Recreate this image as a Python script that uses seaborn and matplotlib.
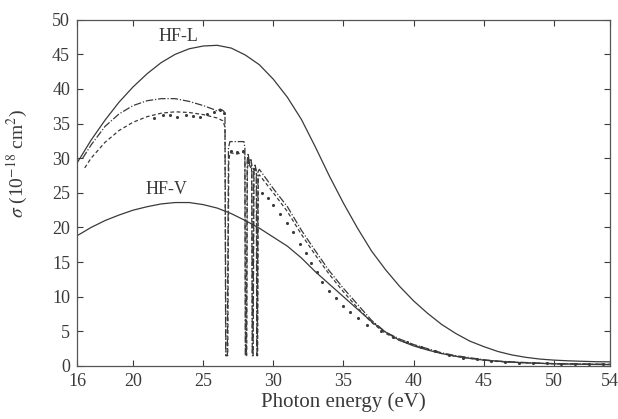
import numpy as np
import pandas as pd
import matplotlib
matplotlib.use("Agg")
import matplotlib.pyplot as plt
import seaborn as sns

# Hartree-Fock length form
hfl_e = [16, 17, 18, 19, 20, 21, 22, 23, 24, 25, 26, 27, 28, 29, 30, 31, 32, 33, 34,
         35, 36, 37, 38, 39, 40, 41, 42, 43, 44, 45, 46, 47, 48, 49, 50, 51, 52, 53, 54]
hfl_s = [29.3, 32.6, 35.5, 38.1, 40.3, 42.2, 43.8, 45.0, 45.8, 46.2, 46.3, 45.9, 44.9,
         43.5, 41.4, 38.8, 35.6, 31.6, 27.4, 23.5, 19.9, 16.6, 13.9, 11.5, 9.4, 7.6,
         6.0, 4.7, 3.6, 2.8, 2.1, 1.6, 1.25, 1.0, 0.85, 0.75, 0.68, 0.62, 0.6]

# Hartree-Fock velocity form
hfv_e = hfl_e
hfv_s = [18.8, 20.0, 21.0, 21.8, 22.5, 23.0, 23.4, 23.6, 23.6, 23.3, 22.8, 22.0, 21.0,
         19.9, 18.6, 17.3, 15.6, 13.6, 11.8, 10.0, 8.2, 6.4, 4.9, 3.7, 2.9, 2.3, 1.8,
         1.4, 1.1, 0.85, 0.7, 0.55, 0.45, 0.38, 0.32, 0.28, 0.25, 0.22, 0.2]

# Correlated result, length form (with autoionizing resonances)
cl_e = [16.4, 17, 18, 19, 20, 21, 22, 23, 24, 25, 25.8, 26.0, 26.2, 26.4, 26.55,
        26.6, 26.72, 26.8, 26.9, 27.9, 27.97, 28.0, 28.08, 28.13, 28.2, 28.3, 28.4,
        28.47, 28.5, 28.55, 28.6, 28.7, 28.78, 28.82, 28.86, 28.9, 29.0, 29.5, 30,
        31, 32, 33, 34, 35, 36, 37, 38, 39, 40, 41, 42, 43, 44, 45, 46, 48, 50, 52, 54]
cl_s = [30.0, 31.9, 34.6, 36.4, 37.6, 38.3, 38.6, 38.6, 38.2, 37.6, 37.0, 36.8, 37.1,
        36.9, 36.6, 1.5, 1.5, 31.5, 32.4, 32.4, 31.5, 1.5, 1.5, 29.5, 30.7, 29.2, 29.8,
        29.0, 1.5, 1.5, 28.5, 29.0, 28.2, 1.5, 1.5, 28.0, 28.4, 27.0, 25.6,
        23.0, 19.6, 16.6, 13.7, 11.2, 8.9, 6.6, 4.9, 3.9, 3.1, 2.5, 1.9, 1.5, 1.2,
        0.9, 0.7, 0.5, 0.35, 0.3, 0.25]

# Correlated result, velocity form
cv_e = [16.55, 17, 18, 19, 20, 21, 22, 23, 24, 25, 26, 26.4, 26.55,
        26.62, 26.75, 26.82, 26.9, 27.4, 27.9, 27.97, 28.02, 28.1, 28.15, 28.25,
        28.35, 28.45, 28.5, 28.56, 28.62, 28.72, 28.8, 28.84, 28.88, 28.93, 29.0,
        30, 31, 32, 33, 34, 35, 36, 37, 38, 39, 40, 41, 42, 43, 44, 45, 46, 48, 50, 52, 54]
cv_s = [28.6, 30.0, 32.3, 34.0, 35.2, 36.0, 36.5, 36.7, 36.6, 36.3, 35.8, 35.4, 34.5,
        1.5, 1.5, 29.5, 30.8, 30.6, 30.9, 30.0, 1.5, 1.5, 28.5, 29.8,
        28.5, 29.0, 1.5, 1.5, 28.0, 28.6, 27.8, 1.5, 1.5, 27.4, 27.6,
        25.0, 22.3, 19.0, 16.0, 13.2, 10.7, 8.4, 6.3, 4.7, 3.7, 3.0, 2.4, 1.8, 1.4,
        1.1, 0.85, 0.65, 0.45, 0.32, 0.27, 0.22]

# Measured cross sections
exp_e = [21.5, 22.1, 22.6, 23.1, 23.8, 24.3, 24.8, 25.3, 25.8, 26.2, 26.5,
         27.0, 27.4, 27.8, 28.2, 28.6, 29.2, 29.6, 30.0, 30.5, 31.0, 31.4, 31.9,
         32.3, 32.7, 33.1, 33.5, 34.0, 34.5, 35.0, 35.5, 36.0, 36.7, 37.7, 38.5,
         39.5, 40.5, 41.5, 42.5, 43.5, 44.5, 45.5, 46.5, 47.5, 48.5, 49.5, 50.5,
         51.5, 52.5, 53.5]
exp_s = [35.8, 36.2, 36.3, 36.0, 36.2, 36.1, 36.0, 36.4, 36.7, 36.9, 36.5,
         31.0, 30.9, 31.0, 29.5, 28.5, 25.0, 24.2, 23.3, 22.0, 20.6, 19.3, 17.6,
         16.3, 14.9, 13.5, 12.1, 10.9, 9.8, 8.6, 7.8, 6.9, 5.9, 5.0, 4.2,
         3.4, 2.7, 2.1, 1.6, 1.2, 0.95, 0.75, 0.6, 0.5, 0.45, 0.4, 0.35,
         0.3, 0.3, 0.28]

x_ticks = [16, 20, 25, 30, 35, 40, 45, 50, 54]
y_ticks = [0, 5, 10, 15, 20, 25, 30, 35, 40, 45, 50]

sns.set_theme(style="ticks")
plt.rcParams["font.family"] = ["Liberation Serif", "DejaVu Serif"]
plt.rcParams["mathtext.fontset"] = "stix"

ink = "#3a3a3a"
fig = plt.figure(figsize=(6.18, 4.19), dpi=100)
ax = fig.add_axes([0.1246, 0.1265, 0.8624, 0.8265])

lw = 0.9
sns.lineplot(x=hfl_e, y=hfl_s, ax=ax, color=ink, lw=lw, sort=False, estimator=None)
sns.lineplot(x=hfv_e, y=hfv_s, ax=ax, color=ink, lw=lw, sort=False, estimator=None)
sns.lineplot(x=cl_e, y=cl_s, ax=ax, color=ink, lw=lw, sort=False, estimator=None,
             linestyle=(0, (6, 1.5, 1, 1.5)))
sns.lineplot(x=cv_e, y=cv_s, ax=ax, color=ink, lw=lw, sort=False, estimator=None,
             linestyle=(0, (3, 2)))
sns.scatterplot(x=exp_e, y=exp_s, ax=ax, color=ink, s=5, marker="o", linewidth=0)

ax.text(23.2, 47.6, "HF-L", ha="center", va="center", fontsize=13, color=ink)
ax.text(22.4, 25.5, "HF-V", ha="center", va="center", fontsize=13, color=ink)

ax.set_xlim(16, 54)
ax.set_ylim(0, 50)
ax.set_xticks(x_ticks)
ax.set_yticks(y_ticks)
ax.tick_params(direction="in", length=4, width=0.8, top=True, right=True,
               labelsize=13, colors=ink, pad=5)
for s in ax.spines.values():
    s.set_visible(True)
    s.set_color("#555555")
    s.set_linewidth(0.9)

ax.set_xlabel("Photon energy (eV)", fontsize=15, color=ink, labelpad=2)
ax.set_ylabel(r"$\sigma$ (10$^{-18}$ cm$^{2}$)", fontsize=14, color=ink)
ax.yaxis.set_label_coords(-0.088, 0.586)

fig.savefig("out.png", dpi=100, facecolor="white")
